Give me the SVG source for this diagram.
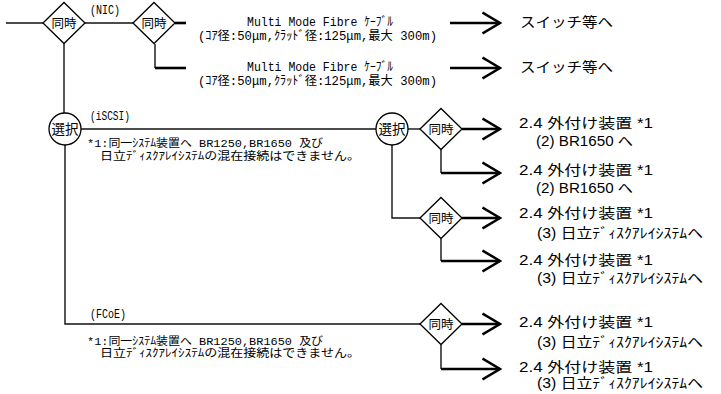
<svg xmlns="http://www.w3.org/2000/svg" width="721" height="394" viewBox="0 0 721 394">
<style>
.thin{stroke:#111;stroke-width:1.4;fill:none}
.thick{stroke:#000;stroke-width:2.6;fill:none}
.shape{fill:#fff;stroke:#000;stroke-width:1.3}
.nt{font-family:"Noto Sans CJK JP",sans-serif;font-size:12.5px;fill:#000;text-anchor:middle}
.ct{font-family:"Noto Sans CJK JP",sans-serif;font-size:13.5px;fill:#000;text-anchor:middle}
.sm{font-family:"Liberation Mono","Noto Sans CJK JP",monospace;font-size:12.5px;fill:#000}
.fn{font-family:"Liberation Mono","Noto Sans CJK JP",monospace;font-size:11.5px;fill:#000}
.lg{font-family:"Liberation Sans","Noto Sans CJK JP",sans-serif;font-size:14px;fill:#000}
</style>
<defs>
<marker id="arr" viewBox="0 0 20 24" markerWidth="20" markerHeight="24" refX="18.5" refY="12" markerUnits="userSpaceOnUse" orient="auto">
<path d="M1,1.5 L18.5,12 L1,22.5" stroke="#000" stroke-width="2.6" fill="none"/>
</marker>
<polygon id="dia" points="-21,0 0,-20.5 21,0 0,20.5"/>
</defs>

<g id="connectors">
<path class="thin" d="M6,23 H43"/>
<path class="thin" d="M85,23 H133"/>
<path class="thin" d="M64,44 V113"/>
<path class="thin" d="M65,145 V324 H420"/>
<path class="thin" d="M81,129 H376"/>
<path class="thin" d="M408,129 H420"/>
<path class="thin" d="M392,145 V218 H420"/>
<path class="thick" d="M175,23 H186"/>
<path class="thin" d="M155,44 V68"/>
<path class="thick" d="M155,68 H186"/>
<path class="thick" d="M450,23 H500" marker-end="url(#arr)"/>
<path class="thick" d="M450,68 H500" marker-end="url(#arr)"/>
<path class="thick" d="M462,129 H500" marker-end="url(#arr)"/>
<path class="thin" d="M441,150 V173"/>
<path class="thick" d="M441,173 H500" marker-end="url(#arr)"/>
<path class="thick" d="M462,218 H500" marker-end="url(#arr)"/>
<path class="thin" d="M441,239 V261"/>
<path class="thick" d="M441,261 H500" marker-end="url(#arr)"/>
<path class="thick" d="M462,324 H500" marker-end="url(#arr)"/>
<path class="thin" d="M441,345 V369"/>
<path class="thick" d="M441,369 H500" marker-end="url(#arr)"/>
</g>

<g id="labels">
<text class="sm" x="90" y="14" textLength="30" lengthAdjust="spacingAndGlyphs">(NIC)</text>
<text class="sm" x="90" y="120" textLength="40" lengthAdjust="spacingAndGlyphs">(iSCSI)</text>
<text class="sm" x="90" y="318" textLength="36" lengthAdjust="spacingAndGlyphs">(FCoE)</text>
<text class="sm" x="247" y="26" textLength="146" lengthAdjust="spacingAndGlyphs">Multi Mode Fibre ｹｰﾌﾞﾙ</text>
<text class="sm" x="198" y="40" textLength="239" lengthAdjust="spacingAndGlyphs">(ｺｱ径:50μm,ｸﾗｯﾄﾞ径:125μm,最大 300m)</text>
<text class="sm" x="247" y="71" textLength="146" lengthAdjust="spacingAndGlyphs">Multi Mode Fibre ｹｰﾌﾞﾙ</text>
<text class="sm" x="198" y="85" textLength="239" lengthAdjust="spacingAndGlyphs">(ｺｱ径:50μm,ｸﾗｯﾄﾞ径:125μm,最大 300m)</text>
<text class="fn" x="87" y="147" textLength="236" lengthAdjust="spacingAndGlyphs">*1:同一ｼｽﾃﾑ装置へ BR1250,BR1650 及び</text>
<text class="fn" x="100" y="159.5" textLength="260" lengthAdjust="spacingAndGlyphs">日立ﾃﾞｨｽｸｱﾚｲｼｽﾃﾑの混在接続はできません。</text>
<text class="fn" x="87" y="344.5" textLength="236" lengthAdjust="spacingAndGlyphs">*1:同一ｼｽﾃﾑ装置へ BR1250,BR1650 及び</text>
<text class="fn" x="100" y="357" textLength="260" lengthAdjust="spacingAndGlyphs">日立ﾃﾞｨｽｸｱﾚｲｼｽﾃﾑの混在接続はできません。</text>
</g>

<g id="dest-switch1"><text class="lg" x="520" y="27" textLength="93" lengthAdjust="spacingAndGlyphs">スイッチ等へ</text></g>
<g id="dest-switch2"><text class="lg" x="520" y="72" textLength="93" lengthAdjust="spacingAndGlyphs">スイッチ等へ</text></g>

<g id="dest-br1650-1">
<text class="lg" x="519" y="128" textLength="134" lengthAdjust="spacingAndGlyphs">2.4 外付け装置 *1</text>
<text class="lg" x="536" y="146" textLength="97" lengthAdjust="spacingAndGlyphs">(2) BR1650 へ</text>
</g>
<g id="dest-br1650-2">
<text class="lg" x="519" y="175" textLength="134" lengthAdjust="spacingAndGlyphs">2.4 外付け装置 *1</text>
<text class="lg" x="536" y="193" textLength="97" lengthAdjust="spacingAndGlyphs">(2) BR1650 へ</text>
</g>
<g id="dest-hitachi-1">
<text class="lg" x="519" y="218" textLength="134" lengthAdjust="spacingAndGlyphs">2.4 外付け装置 *1</text>
<text class="lg" x="537" y="238" textLength="166" lengthAdjust="spacingAndGlyphs">(3) 日立ﾃﾞｨｽｸｱﾚｲｼｽﾃﾑへ</text>
</g>
<g id="dest-hitachi-2">
<text class="lg" x="519" y="265" textLength="134" lengthAdjust="spacingAndGlyphs">2.4 外付け装置 *1</text>
<text class="lg" x="537" y="283" textLength="166" lengthAdjust="spacingAndGlyphs">(3) 日立ﾃﾞｨｽｸｱﾚｲｼｽﾃﾑへ</text>
</g>
<g id="dest-hitachi-3">
<text class="lg" x="519" y="327" textLength="134" lengthAdjust="spacingAndGlyphs">2.4 外付け装置 *1</text>
<text class="lg" x="537" y="347" textLength="166" lengthAdjust="spacingAndGlyphs">(3) 日立ﾃﾞｨｽｸｱﾚｲｼｽﾃﾑへ</text>
</g>
<g id="dest-hitachi-4">
<text class="lg" x="519" y="372" textLength="134" lengthAdjust="spacingAndGlyphs">2.4 外付け装置 *1</text>
<text class="lg" x="537" y="388" textLength="166" lengthAdjust="spacingAndGlyphs">(3) 日立ﾃﾞｨｽｸｱﾚｲｼｽﾃﾑへ</text>
</g>

<g id="and-1"><use href="#dia" class="shape" x="64" y="23"/><text class="nt" x="64" y="27.5">同時</text></g>
<g id="and-nic"><use href="#dia" class="shape" x="154" y="23"/><text class="nt" x="154" y="27.5">同時</text></g>
<g id="select-1"><circle class="shape" cx="65" cy="129" r="16"/><text class="ct" x="65" y="134">選択</text></g>
<g id="select-iscsi"><circle class="shape" cx="392" cy="129" r="16"/><text class="ct" x="392" y="134">選択</text></g>
<g id="and-br1650"><use href="#dia" class="shape" x="441" y="129"/><text class="nt" x="441" y="133.5">同時</text></g>
<g id="and-hitachi"><use href="#dia" class="shape" x="441" y="218"/><text class="nt" x="441" y="222.5">同時</text></g>
<g id="and-fcoe"><use href="#dia" class="shape" x="441" y="324"/><text class="nt" x="441" y="328.5">同時</text></g>
</svg>
